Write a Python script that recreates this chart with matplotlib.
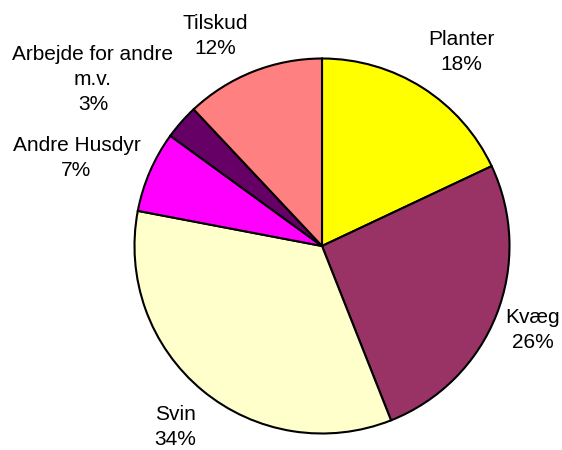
import matplotlib.pyplot as plt

# data
categories = ['Planter', 'Kvæg', 'Svin', 'Andre Husdyr', 'Arbejde for andre\nm.v.', 'Tilskud']
shares = [18, 26, 34, 7, 3, 12]
colors = ['#FFFF00', '#993366', '#FFFFCC', '#FF00FF', '#660066', '#FF8080']

# label positions (data units, pie radius = 1)
label_pos = [(0.743, 1.035), (1.123, -0.450), (-0.781, -0.965),
             (-1.310, 0.470), (-1.222, 0.890), (-0.567, 1.120)]

W, H = 562, 450
cx, cy, r = 322, 246, 187.5

fig = plt.figure(figsize=(W / 100, H / 100), dpi=100)
ax = fig.add_axes([0, 0, 1, 1])

ax.pie(shares, colors=colors, startangle=90, counterclock=False, radius=1,
       wedgeprops={'edgecolor': 'black', 'linewidth': 1.5})

ax.set_xlim(-cx / r, (W - cx) / r)
ax.set_ylim(-(H - cy) / r, cy / r)
ax.axis('off')

total = sum(shares)
for name, val, (x, y) in zip(categories, shares, label_pos):
    ax.text(x, y, f'{name}\n{round(100 * val / total)}%', ha='center', va='center',
            fontsize=15, family='Liberation Sans', linespacing=1.4)

fig.savefig('out.png', dpi=100)
